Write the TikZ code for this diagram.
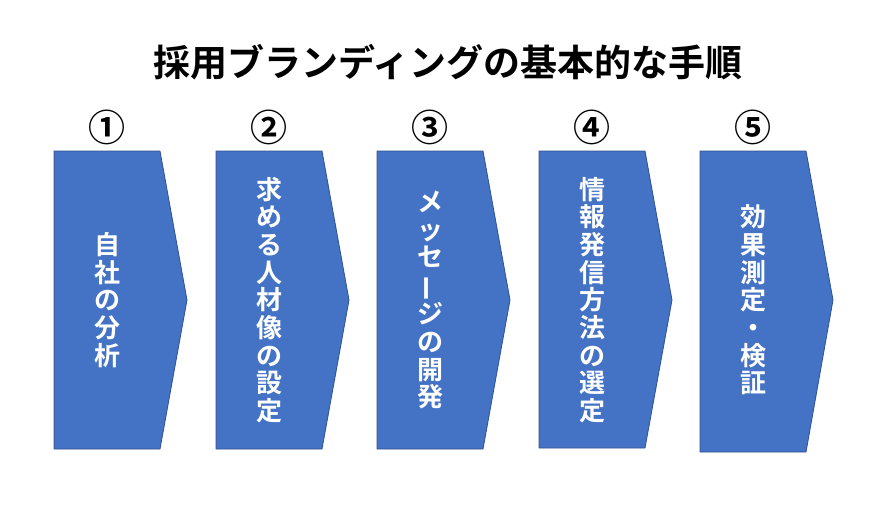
\documentclass[tikz,border=0pt]{standalone}
\usepackage{fontspec}
\newfontfamily\jpfont{Noto Sans CJK JP}[BoldFont={Noto Sans CJK JP Bold}]
\definecolor{boxblue}{HTML}{4472C4}
\definecolor{boxedge}{HTML}{2F528F}
\tikzset{
  box/.style={fill=boxblue, draw=boxedge, line width=0.8pt},
  tate/.style={text=white, font=\jpfont\bfseries\fontsize{26}{27.7}\selectfont, align=center, inner sep=0pt},
  num/.style={font=\jpfont\bfseries\fontsize{37}{37}\selectfont, inner sep=0pt}
}
\begin{document}
\begin{tikzpicture}[x=1pt, y=-1pt, line join=round]
	\useasboundingbox (0,0) rectangle (888,508);
	\node[font=\jpfont\bfseries\fontsize{37}{37}\selectfont, inner sep=0pt] (title) at (448,62) {採用ブランディングの基本的な手順};
	% five steps: left edge / bottom / number / text
	\foreach \n/\l/\b/\mark/\txt in {
		1/54/449/①/{自\\社\\の\\分\\析},
		2/216/449/②/{求\\め\\る\\人\\材\\像\\の\\設\\定},
		3/377/449/③/{メ\\ッ\\セ\\\rotatebox[origin=c]{90}{ー}\\ジ\\の\\開\\発},
		4/539/448/④/{情\\報\\発\\信\\方\\法\\の\\選\\定},
		5/700/452/⑤/{効\\果\\測\\定\\・\\検\\証}} {
		\draw[box] (\l,151) -- (\l+106,151) -- (\l+133,300) -- (\l+106,\b) -- (\l,\b) -- cycle;
		\node[num] (num\n) at (\l+53,127) {\mark};
		\node[tate] (step\n) at (\l+53,300) {\txt};
	}
\end{tikzpicture}
\end{document}
